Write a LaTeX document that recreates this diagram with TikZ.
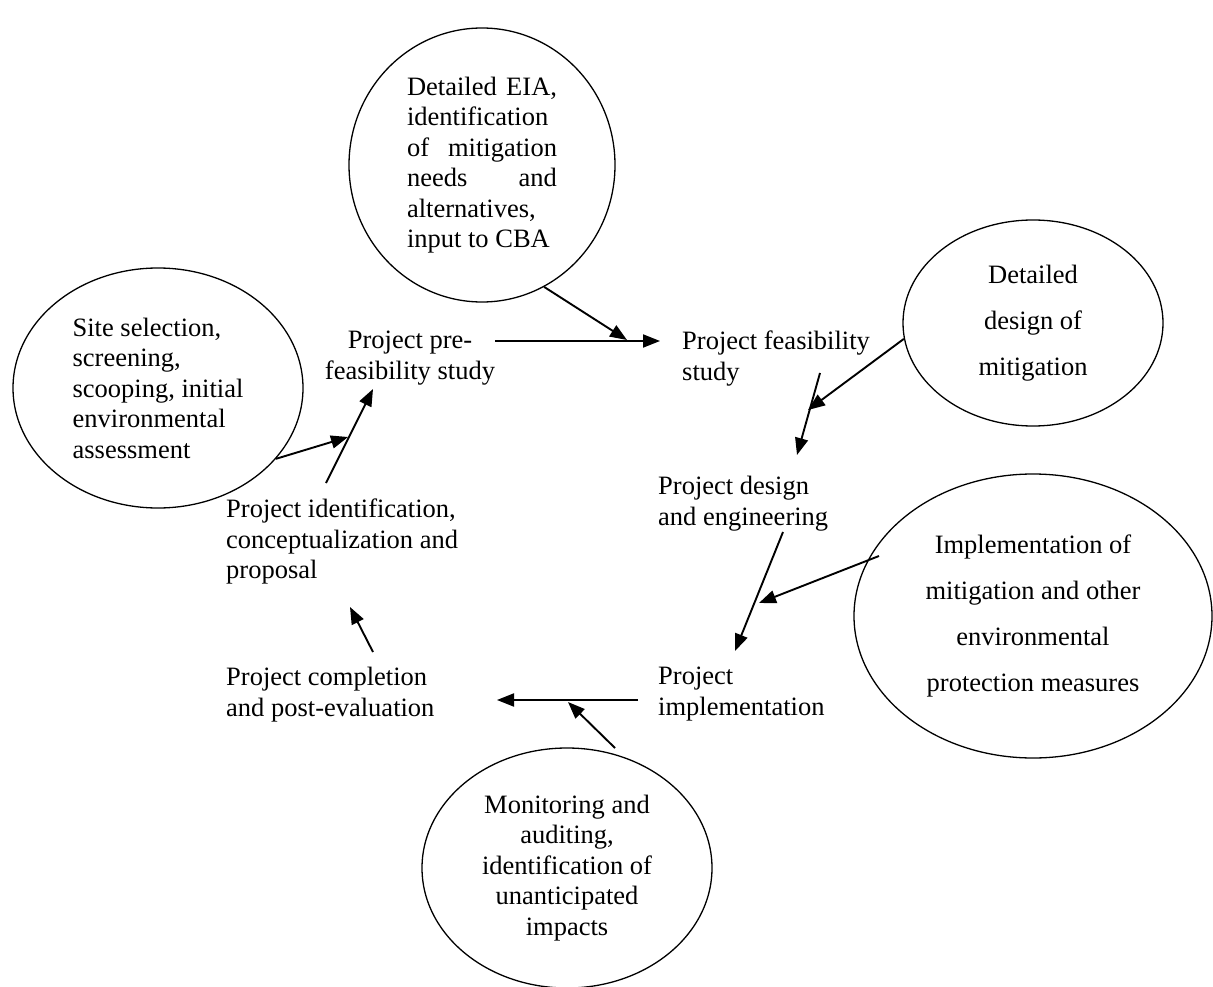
\documentclass[tikz,border=0pt]{standalone}
\usepackage{fontspec}
\setmainfont{Liberation Serif}
\usetikzlibrary{shapes.geometric,arrows.meta}
\begin{document}
\begin{tikzpicture}[x=1pt,y=-1pt,
  ell/.style={draw, ellipse, line width=1.3pt, inner sep=0pt},
  lbl/.style={inner sep=0pt, font=\fontsize{26.5}{30.5}\selectfont},
  wide/.style={inner sep=0pt, font=\fontsize{26.5}{46}\selectfont},
  arr/.style={line width=1.9pt, -{Triangle[length=17pt,width=13pt]}}
]
\useasboundingbox (0,0) rectangle (1213,987);

% ellipses
\node[ell, lbl, align=left, minimum width=266pt, minimum height=274pt] (eia) at (482,165)
  {\hbox to 150pt{Detailed\hfill EIA,}\\
   \hbox to 150pt{identification\hfil}\\
   \hbox to 150pt{of\hfill mitigation}\\
   \hbox to 150pt{needs\hfill and}\\
   \hbox to 150pt{alternatives,\hfil}\\
   \hbox to 150pt{input to CBA\hfil}};
\node[ell, lbl, align=left, minimum width=290pt, minimum height=240pt] (site) at (158,388)
  {Site selection,\\screening,\\scooping, initial\\environmental\\assessment};
\node[ell, wide, align=center, minimum width=260pt, minimum height=206pt] (ddm) at (1033,323)
  {Detailed\\design of\\mitigation};
\node[ell, wide, align=center, minimum width=358pt, minimum height=284pt] (imm) at (1033,616)
  {Implementation of\\mitigation and other\\environmental\\protection measures};
\node[ell, lbl, align=center, minimum width=290pt, minimum height=240pt] (mon) at (567,868)
  {Monitoring and\\auditing,\\identification of\\unanticipated\\impacts};

% process labels
\node[lbl, align=center, anchor=north] (pre) at (410,331) {Project pre-\\feasibility study};
\node[lbl, align=left, anchor=north west] (feas) at (682,331) {Project feasibility\\study};
\node[lbl, align=left, anchor=north west] (des) at (658,476) {Project design\\and engineering};
\node[lbl, align=left, anchor=north west] (impl) at (658,667) {Project\\implementation};
\node[lbl, align=left, anchor=north west] (compl) at (226,667) {Project completion\\and post-evaluation};
\node[lbl, align=left, anchor=north west] (ident) at (226,499) {Project identification,\\conceptualization and\\proposal};

% connector end points
\coordinate (p1) at (495,341);  \coordinate (p2) at (660,341);
\coordinate (p3) at (627,340);
\coordinate (p4) at (348,437);
\coordinate (p5) at (326,483);  \coordinate (p6) at (373,389);
\coordinate (p7) at (808,410);
\coordinate (p8) at (820,373);  \coordinate (p9) at (797,455);
\coordinate (p10) at (783,532); \coordinate (p11) at (735,651);
\coordinate (p12) at (879,556); \coordinate (p13) at (759,603);
\coordinate (p14) at (638,700); \coordinate (p15) at (497,700);
\coordinate (p16) at (615,748); \coordinate (p17) at (568,702);
\coordinate (p18) at (373,652); \coordinate (p19) at (350,607);

% connectors
\draw[arr] (p1) -- (p2);
\draw[arr] (eia.-63) -- (p3);
\draw[arr] (site.-31) -- (p4);
\draw[arr] (p5) -- (p6);
\draw[arr] (ddm.187.5) -- (p7);
\draw[arr] (p8) -- (p9);
\draw[arr] (p10) -- (p11);
\draw[arr] (p12) -- (p13);
\draw[arr] (p14) -- (p15);
\draw[arr] (p16) -- (p17);
\draw[arr] (p18) -- (p19);
\end{tikzpicture}
\end{document}
